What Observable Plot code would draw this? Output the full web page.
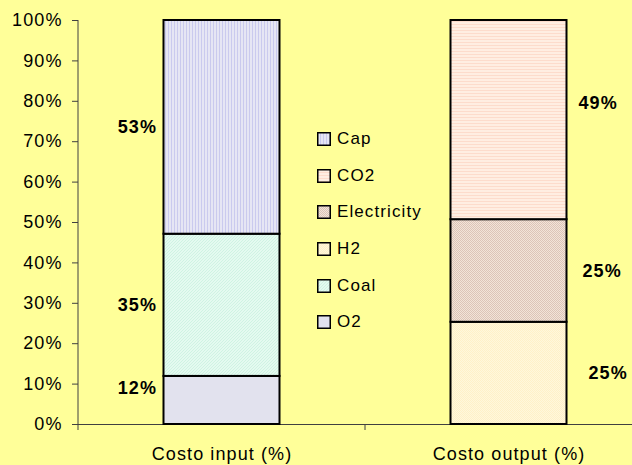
<!DOCTYPE html>
<html><head><meta charset="utf-8">
<script src="https://cdn.jsdelivr.net/npm/d3@7"></script>
<script src="https://cdn.jsdelivr.net/npm/@observablehq/plot@0.6"></script>
<style>
html,body{margin:0;padding:0;background:#ffff99;}
#wrap{position:relative;width:632px;height:465px;background:#ffff99;font-family:"Liberation Sans",Arial,sans-serif;overflow:hidden;}
#wrap svg text{letter-spacing:1.1px;}
#legend{position:absolute;left:317px;top:121px;}
.item{display:flex;align-items:center;height:36.6px;font-size:17px;letter-spacing:1.1px;color:#000;}
.item svg{margin-right:6px;display:block;}
</style></head>
<body><div id="wrap"><div id="legend"></div></div>
<script>
// ---- data ----
const categories = ["Costo input (%)", "Costo output (%)"];
const series = ["O2", "Coal", "H2", "Electricity", "CO2", "Cap"];
const inputValues  = [11.9, 35.2, 0, 0, 0, 52.9];
const outputValues = [0, 0, 25.3, 25.4, 49.3, 0];
const yTicks = [0, 10, 20, 30, 40, 50, 60, 70, 80, 90, 100];
const legendOrder = ["Cap", "CO2", "Electricity", "H2", "Coal", "O2"];

// build stacked rows
const rows = [];
[inputValues, outputValues].forEach((vals, ci) => {
  let acc = 0;
  vals.forEach((v, si) => {
    if (v > 0) {
      rows.push({category: categories[ci], series: series[si], value: v,
                 y1: acc, y2: acc + v, mid: acc + v / 2,
                 label: Math.round(v) + "%"});
      acc += v;
    }
  });
});
const inRows = rows.filter(d => d.category === categories[0]);
const outRows = rows.filter(d => d.category === categories[1]);

const font = '"Liberation Sans", Arial, sans-serif';
const plot = Plot.plot({
  width: 632, height: 465,
  marginLeft: 78, marginRight: 0, marginTop: 20, marginBottom: 41,
  style: {background: "transparent", fontFamily: font, fontSize: "18px", color: "#000", overflow: "visible"},
  x: {domain: categories, range: [78, 652], padding: 0},
  y: {domain: [0, 100]},
  color: {domain: series, range: series.map(s => `url(#pat-${s})`)},
  marks: [
    Plot.ruleY([0], {stroke: "#404040", strokeWidth: 1}),
    Plot.barY(rows, {x: "category", y1: "y1", y2: "y2", fill: "series",
      stroke: "#000", strokeWidth: 2, insetLeft: 85.5, insetRight: 85.5}),
    Plot.axisY({ticks: yTicks, tickFormat: d => d + "%", tickSize: 6, tickPadding: 10,
      fontSize: 18, stroke: "#404040", fill: "#000", label: null}),
    Plot.axisX({tickSize: 0, tickPadding: 23, fontSize: 18, fill: "#000", label: null}),
    Plot.text(inRows.filter(d => d.series !== "O2"), {x: "category", y: "mid", text: "label",
      textAnchor: "end", dx: -65, fontWeight: "bold", fontSize: 18, fill: "#000"}),
    Plot.text(inRows.filter(d => d.series === "O2"), {x: "category", y: "mid", text: "label",
      textAnchor: "end", dx: -65, dy: -12, fontWeight: "bold", fontSize: 18, fill: "#000"}),
    Plot.text(outRows.filter(d => d.series === "CO2"), {x: "category", y: "mid", text: "label",
      textAnchor: "start", dx: 69.5, dy: -17, fontWeight: "bold", fontSize: 18, fill: "#000"}),
    Plot.text(outRows.filter(d => d.series === "Electricity"), {x: "category", y: "mid", text: "label",
      textAnchor: "start", dx: 73.5, fontWeight: "bold", fontSize: 18, fill: "#000"}),
    Plot.text(outRows.filter(d => d.series === "H2"), {x: "category", y: "mid", text: "label",
      textAnchor: "start", dx: 79.5, fontWeight: "bold", fontSize: 18, fill: "#000"})
  ]
});

// patterns
const svg = d3.select(plot);
const defs = svg.insert("defs", ":first-child");
function pat(id, w, h, bg, cells, fg) {
  const p = defs.append("pattern").attr("id", "pat-" + id).attr("patternUnits", "userSpaceOnUse")
    .attr("width", w).attr("height", h);
  p.append("rect").attr("width", w).attr("height", h).attr("fill", bg);
  cells.forEach(([x, y, cw, ch]) => p.append("rect").attr("x", x).attr("y", y)
    .attr("width", cw).attr("height", ch).attr("fill", fg));
}
pat("Cap", 3, 3, "#e6e6f4", [[0, 0, 1, 3]], "#cacaee");
pat("CO2", 3, 3, "#ffeee2", [[0, 0, 3, 1]], "#fddccc");
pat("Electricity", 2, 2, "#f2e4d8", [[0, 0, 1, 1], [1, 1, 1, 1]], "#dcc4b8");
pat("H2", 2, 2, "#fff8dc", [[0, 0, 1, 1], [1, 1, 1, 1]], "#fff0c8");
pat("Coal", 3, 3, "#e4faf0", [[0, 2, 1, 1], [1, 1, 1, 1], [2, 0, 1, 1]], "#cff3e3");
pat("O2", 2, 2, "#e2e2ee", [], "#e2e2ee");

// vertical axis line and the category-boundary tick, from the scales
const xs = plot.scale("x"), ys = plot.scale("y");
const x0 = xs.range[0];
const yBottom = ys.apply(0), yTop = ys.apply(100);
svg.append("line").attr("x1", x0).attr("x2", x0).attr("y1", yTop).attr("y2", yBottom + 6)
  .attr("stroke", "#404040");
const boundary = xs.apply(categories[1]);
svg.append("line").attr("x1", boundary).attr("x2", boundary).attr("y1", yBottom).attr("y2", yBottom + 6)
  .attr("stroke", "#404040");

document.getElementById("wrap").prepend(plot);

// legend
const lg = d3.select("#legend");
legendOrder.forEach(s => {
  const it = lg.append("div").attr("class", "item");
  const sw = it.append("svg").attr("width", 14).attr("height", 14);
  sw.append("rect").attr("x", 0.75).attr("y", 0.75).attr("width", 12.5).attr("height", 12.5)
    .attr("fill", `url(#pat-${s})`).attr("stroke", "#000").attr("stroke-width", 1.5);
  it.append("span").text(s);
});
</script>
</body></html>
